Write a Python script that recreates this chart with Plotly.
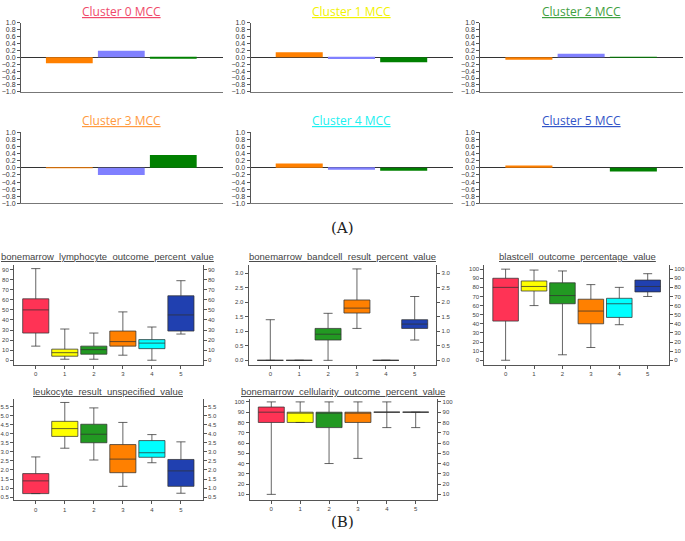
import plotly.graph_objects as go

# ---------------- data ----------------
cluster_names = ["Cluster 0 MCC", "Cluster 1 MCC", "Cluster 2 MCC",
                 "Cluster 3 MCC", "Cluster 4 MCC", "Cluster 5 MCC"]
cluster_title_colors = ["#F04A6A", "#F2F200", "#3FA03F", "#FF9A40", "#20F0F0", "#3355C8"]
mcc_categories = [0, 1, 2]
mcc_bar_colors = ["#FF8000", "#8080FF", "#008000"]
mcc_values = [
    [-0.17, 0.19, -0.03],
    [0.145, -0.05, -0.145],
    [-0.07, 0.10, -0.01],
    [0.005, -0.20, 0.36],
    [0.12, -0.055, -0.085],
    [0.065, 0.0, -0.10],
]

box_clusters = [0, 1, 2, 3, 4, 5]
box_colors = ["#FF3355", "#FFFF00", "#229922", "#FF8000", "#00FFFF", "#2040B0"]
box_titles = [
    "bonemarrow_lymphocyte_outcome_percent_value",
    "bonemarrow_bandcell_result_percent_value",
    "blastcell_outcome_percentage_value",
    "leukocyte_result_unspecified_value",
    "bonemarrow_cellularity_outcome_percent_value",
]
# per panel: lists over clusters 0..5
lymph_low = [14, 1, 1, 5, 0, 26]
lymph_q1 = [27, 4, 6, 14, 11.5, 29]
lymph_med = [50, 7.5, 10.5, 18.5, 17, 45]
lymph_q3 = [61, 11, 14, 29, 20.5, 64]
lymph_high = [91, 31, 27, 48, 33, 79]

band_low = [0, 0, 0, 1.1, 0, 0.7]
band_q1 = [0, 0, 0.7, 1.63, 0, 1.1]
band_med = [0, 0, 0.9, 1.8, 0, 1.25]
band_q3 = [0, 0, 1.1, 2.08, 0, 1.4]
band_high = [1.4, 0, 1.62, 3.15, 0, 2.2]

blast_low = [0, 60, 6, 14, 39, 70]
blast_q1 = [43, 76, 62, 40, 47, 75]
blast_med = [80, 81, 71, 54, 62, 81]
blast_q3 = [90, 87, 85, 67, 68, 88]
blast_high = [100, 99, 98, 83, 80, 95]

leuko_low = [0.7, 3.2, 2.55, 1.1, 2.4, 0.72]
leuko_q1 = [0.7, 3.85, 3.5, 1.85, 2.7, 1.1]
leuko_med = [1.4, 4.28, 3.97, 2.6, 2.95, 1.95]
leuko_q3 = [1.8, 4.68, 4.52, 3.4, 3.62, 2.58]
leuko_high = [2.72, 5.72, 5.42, 4.62, 3.95, 3.55]

cell_low = [10, 80, 40, 45, 75, 75]
cell_q1 = [80, 80, 75, 80, 90, 90]
cell_med = [90, 90, 90, 90, 90, 90]
cell_q3 = [95, 90, 90, 90, 90, 90]
cell_high = [100, 100, 100, 100, 100, 90]

# ---------------- layout helpers ----------------
W, H = 685, 541


def px_x(x):
    return x / W


def px_y(y):
    return 1 - y / H


fig = go.Figure()
layout = dict(
    width=W, height=H, margin=dict(l=0, r=0, t=0, b=0),
    paper_bgcolor="white", plot_bgcolor="white",
    showlegend=False, boxmode="overlay", barmode="overlay",
    annotations=[],
)

# MCC panels
mcc_cols = [(20, 222), (250, 453), (480, 683)]
mcc_rows = [(19, 89), (130, 202)]
title_y = [8, 118]
title_x = [121, 351, 581]
tick_font = dict(family="Liberation Sans", size=7, color="#333")

for k in range(6):
    r, c = divmod(k, 3)
    ax = k + 1
    xs = "" if ax == 1 else str(ax)
    fig.add_trace(go.Bar(
        x=mcc_categories, y=mcc_values[k], width=0.9,
        marker=dict(color=mcc_bar_colors, line=dict(width=0)),
        xaxis="x" + xs, yaxis="y" + xs, hoverinfo="skip",
    ))
    layout["xaxis" + xs] = dict(
        domain=[px_x(mcc_cols[c][0]), px_x(mcc_cols[c][1])],
        anchor="y" + xs, range=[-0.93, 2.95], showticklabels=False,
        ticks="", showgrid=False, zeroline=False,
        showline=True, linecolor="#777", linewidth=1,
    )
    layout["yaxis" + xs] = dict(
        domain=[px_y(mcc_rows[r][1]), px_y(mcc_rows[r][0])],
        anchor="x" + xs, range=[-1.0, 1.0], dtick=0.2, tick0=0,
        tickformat=".1f", ticks="outside", ticklen=3, tickcolor="#555",
        tickfont=tick_font, showgrid=False,
        zeroline=True, zerolinecolor="#333", zerolinewidth=1,
        showline=True, linecolor="#555", linewidth=1,
    )
    layout["annotations"].append(dict(
        text="<u>" + cluster_names[k] + "</u>", x=px_x(title_x[c]), y=px_y(title_y[r]),
        xref="paper", yref="paper", showarrow=False, xanchor="center", yanchor="middle",
        font=dict(family="Open Sans", size=12, color=cluster_title_colors[k]),
    ))

# Box panels
box_data = [
    (lymph_low, lymph_q1, lymph_med, lymph_q3, lymph_high, [-5, 95], 10, ".0f"),
    (band_low, band_q1, band_med, band_q3, band_high, [-0.17, 3.3], 0.5, ".1f"),
    (blast_low, blast_q1, blast_med, blast_q3, blast_high, [-5.5, 105], 10, ".0f"),
    (leuko_low, leuko_q1, leuko_med, leuko_q3, leuko_high, [0.32, 5.92], 0.5, ".1f"),
    (cell_low, cell_q1, cell_med, cell_q3, cell_high, [5, 103], 10, ".0f"),
]
box_x_px = [(13, 202), (248, 436), (484, 669), (13, 202), (249, 437)]
box_y_px = [(264, 366), (264, 366), (264, 366), (400, 503), (400, 502)]
box_title_pos = [(107, 256), (342, 256), (577, 256), (107, 393), (342, 393)]
small_font = dict(family="Liberation Sans", size=6, color="#444")

for p in range(5):
    ax = 7 + p
    rax = 12 + p
    low, q1, med, q3, high, yr, dt, fmt = box_data[p]
    for i in box_clusters:
        fig.add_trace(go.Box(
            x=[i], q1=[q1[i]], median=[med[i]], q3=[q3[i]],
            lowerfence=[low[i]], upperfence=[high[i]],
            fillcolor=box_colors[i], line=dict(color="rgba(50,50,50,0.75)", width=1),
            width=0.9, whiskerwidth=0.35, boxpoints=False,
            xaxis="x%d" % ax, yaxis="y%d" % ax, hoverinfo="skip",
        ))
    fig.add_trace(go.Scatter(
        x=[0], y=[yr[0]], mode="markers", marker=dict(opacity=0),
        xaxis="x%d" % ax, yaxis="y%d" % rax, hoverinfo="skip",
    ))
    dom_x = [px_x(box_x_px[p][0]), px_x(box_x_px[p][1])]
    dom_y = [px_y(box_y_px[p][1]), px_y(box_y_px[p][0])]
    layout["xaxis%d" % ax] = dict(
        domain=dom_x, anchor="y%d" % ax, range=[-0.75, 5.75],
        tickvals=box_clusters, ticks="outside", ticklen=3, tickcolor="#555",
        tickfont=small_font, showgrid=False, zeroline=False,
        showline=True, linecolor="#555", linewidth=1,
    )
    common_y = dict(
        range=yr, dtick=dt, tick0=0, tickformat=fmt,
        ticks="outside", ticklen=3, tickcolor="#555", tickfont=small_font,
        showgrid=False, zeroline=False, showline=True, linecolor="#555", linewidth=1,
        ticklabeloverflow="allow",
    )
    layout["yaxis%d" % ax] = dict(domain=dom_y, anchor="x%d" % ax, **common_y)
    layout["yaxis%d" % rax] = dict(overlaying="y%d" % ax, side="right",
                                   anchor="x%d" % ax, **common_y)
    layout["annotations"].append(dict(
        text="<u>" + box_titles[p] + "</u>",
        x=px_x(box_title_pos[p][0]), y=px_y(box_title_pos[p][1]),
        xref="paper", yref="paper", showarrow=False, xanchor="center", yanchor="middle",
        font=dict(family="Liberation Sans", size=9.5, color="#444"),
    ))

for lab, yy in [("(A)", 227), ("(B)", 525)]:
    layout["annotations"].append(dict(
        text=lab, x=px_x(342), y=px_y(yy), xref="paper", yref="paper",
        showarrow=False, xanchor="center", yanchor="middle",
        font=dict(family="DejaVu Serif", size=15, color="#222"),
    ))

fig.update_layout(**layout)
fig.write_html("out.html", config={"displayModeBar": False},
               post_script="document.body.style.margin='0px';document.body.style.overflow='hidden';")
